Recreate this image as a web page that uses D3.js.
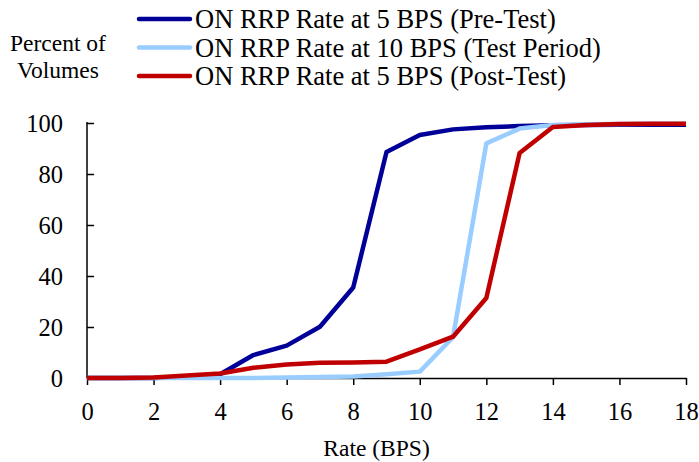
<!DOCTYPE html>
<html><head><meta charset="utf-8">
<script src="https://cdn.jsdelivr.net/npm/d3@7"></script>
</head><body style="margin:0"><svg id="c" width="699" height="462"></svg>
<script>
const rates = [0,1,2,3,4,5,6,7,8,9,10,11,12,13,14,15,16,17,18];
const preTest = [0,0,0,0.5,1.5,9,12.7,20.1,35.5,88.6,95.3,97.5,98.3,98.8,99.1,99.2,99.3,99.3,99.3];
const testPeriod = [0,0,0,0,0,0,0.2,0.4,0.6,1.5,2.5,16,92,97.8,99.2,99.5,99.6,99.7,99.7];
const postTest = [0,0,0.2,1,1.8,4,5.3,6,6.1,6.4,11.2,16.2,31.4,88.2,98.4,99.2,99.6,99.7,99.7];
const seriesNames = ["ON RRP Rate at 5 BPS (Pre-Test)","ON RRP Rate at 10 BPS (Test Period)","ON RRP Rate at 5 BPS (Post-Test)"];
const seriesColors = ["#000099","#99CCFF","#C00000"];
const xTicks = [0,2,4,6,8,10,12,14,16,18];
const yTicks = [0,20,40,60,80,100];

const FONT = "'Liberation Serif'";
const svg = d3.select("#c");
const x = d3.scaleLinear().domain([0,18]).range([87,686]);
const y = d3.scaleLinear().domain([0,100]).range([378,123]);

function txt(sel, size){ return sel.style("font-family",FONT).style("font-size",size+"px"); }

const gx = svg.append("g").attr("transform","translate(0,378)")
  .call(d3.axisBottom(x).tickValues(xTicks).tickSize(7).tickSizeOuter(0).tickPadding(6));
const gy = svg.append("g").attr("transform","translate(87,0)")
  .call(d3.axisLeft(y).tickValues(yTicks).tickSize(-7).tickSizeOuter(0).tickPadding(24));
[gx,gy].forEach(g=>{
  g.attr("font-family",null).attr("font-size",null);
  g.selectAll("path,line").attr("stroke","#000").attr("stroke-width",1.5);
  txt(g.selectAll("text"),24.5).attr("fill","#000");
});
gx.selectAll("text").attr("y",24).attr("dy","0.72em");
gy.selectAll("text").attr("dy","0.34em");
gy.select(".domain").attr("d","M0,378V122");

const data = [preTest,testPeriod,postTest];
const line = d3.line().x((d,i)=>x(rates[i])).y(d=>y(d));
data.forEach((s,k)=>{
  svg.append("path").datum(s).attr("d",line).attr("fill","none")
    .attr("stroke",seriesColors[k]).attr("stroke-width",4.5).attr("stroke-linejoin","round");
});

seriesNames.forEach((n,k)=>{
  const yy = 19 + k*28.5;
  svg.append("line").attr("x1",139).attr("x2",190).attr("y1",yy).attr("y2",yy)
    .attr("stroke",seriesColors[k]).attr("stroke-width",4.5).attr("stroke-linecap","round");
  txt(svg.append("text").attr("x",195).attr("y",yy+9),26.5).text(n);
});

txt(svg.append("text").attr("x",10).attr("y",51),23.5).text("Percent of");
txt(svg.append("text").attr("x",17).attr("y",78),23.5).text("Volumes");
txt(svg.append("text").attr("x",376.5).attr("y",456).attr("text-anchor","middle"),23.5).text("Rate (BPS)");
</script></body></html>
